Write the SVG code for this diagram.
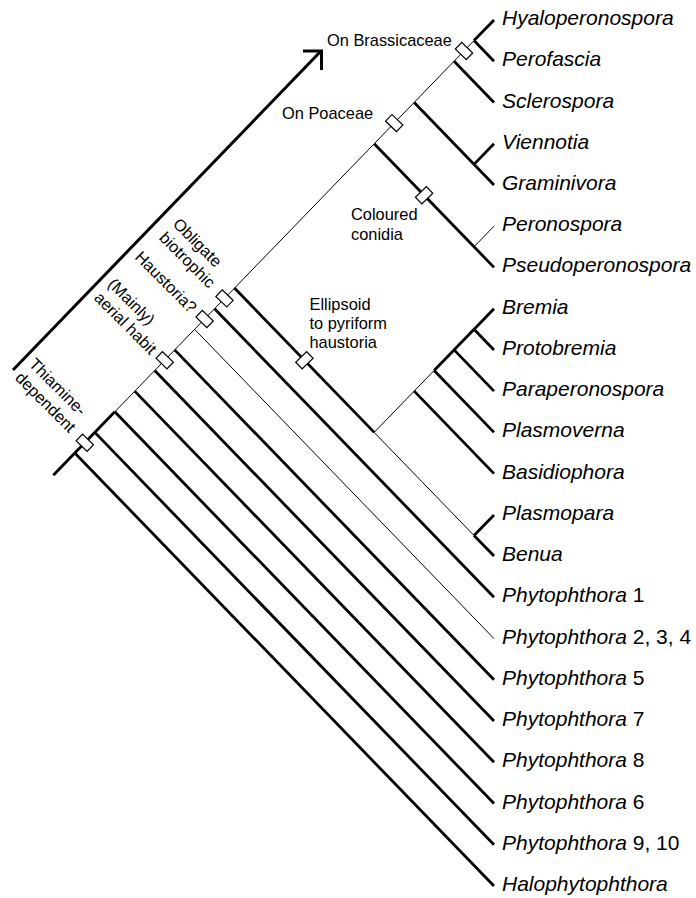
<svg xmlns="http://www.w3.org/2000/svg" width="696" height="898" viewBox="0 0 696 898">
<style>
.thick{fill:none;stroke:#000;stroke-width:2.8;stroke-linecap:butt}
.thin{fill:none;stroke:#000;stroke-width:1}
.arrow{fill:none;stroke:#000;stroke-width:3;stroke-linejoin:miter}
.mk{fill:#fff;stroke:#000;stroke-width:1.2}
.tax{font-family:"Liberation Sans",Arial,sans-serif;font-size:21px;font-style:italic;fill:#000}
.tax tspan.n{font-style:normal}
.lab{font-family:"Liberation Sans",Arial,sans-serif;font-size:16.4px;fill:#000}
</style>
<defs>
<rect id="m" class="mk" x="-4.6" y="-7.6" width="9.2" height="15.2"/>
</defs>
<rect width="696" height="898" fill="#fff"/>
<g id="connectors">
<path class="arrow" d="M13,370 L321,51"/>
<path class="arrow" d="M303,51 L321.5,51 L321.5,70"/>
<path class="thick" d="M53.3,475.2 L74.8,453 L114.8,411.8"/>
<path class="thin" d="M114.8,411.8 L474,40.6"/>
<path class="thick" d="M474,40.6 L494,20 M474,40.6 L494,61.2"/>
<path class="thick" d="M454.1,61.2 L494,102.5"/>
<path class="thick" d="M414.2,102.5 L494,185 M474,164.4 L494,143.7"/>
<path class="thick" d="M374.2,143.7 L494,267.4"/>
<path class="thin" d="M474,246.8 L494,226.2"/>
<path class="thick" d="M234.5,288 L374.2,432.4"/>
<path class="thin" d="M374.2,432.4 L474,535.5"/>
<path class="thick" d="M474,535.5 L494,556.1 M474,535.5 L494,514.9"/>
<path class="thin" d="M374.2,432.4 L434.1,370.5"/>
<path class="thick" d="M434.1,370.5 L494,308.7 M474,329.3 L494,349.9 M454.1,349.9 L494,391.1 M434.1,370.5 L494,432.4 M414.2,391.1 L494,473.6"/>
<path class="thick" d="M214.6,308.7 L494,597.3"/>
<path class="thin" d="M194.6,329.3 L494,638.6"/>
<path class="thick" d="M174.7,349.9 L494,679.8 M154.7,370.5 L494,721 M134.7,391.1 L494,762.3 M114.8,411.8 L494,803.5 M94.8,432.4 L494,844.8 M74.8,453 L494,886"/>
</g>
<g id="char-brassicaceae"><use href="#m" transform="translate(464,51) rotate(-45.9)"/><text class="lab" x="327" y="46">On Brassicaceae</text></g>
<g id="char-poaceae"><use href="#m" transform="translate(394.2,123.1) rotate(-45.9)"/><text class="lab" x="282" y="119">On Poaceae</text></g>
<g id="char-coloured"><use href="#m" transform="translate(424.1,195.3) rotate(45.9)"/><text class="lab"><tspan x="351" y="220">Coloured</tspan><tspan x="351" y="239.5">conidia</tspan></text></g>
<g id="char-ellipsoid"><use href="#m" transform="translate(304.4,360.2) rotate(45.9)"/><text class="lab"><tspan x="309.5" y="309.5">Ellipsoid</tspan><tspan x="309.5" y="328.6">to pyriform</tspan><tspan x="309.5" y="347.7">haustoria</tspan></text></g>
<g id="char-obligate"><use href="#m" transform="translate(224.5,298.4) rotate(-45.9)"/><text class="lab" transform="translate(172,225) rotate(45)"><tspan x="0" y="0">Obligate</tspan><tspan x="0" y="19.5">biotrophic</tspan></text></g>
<g id="char-haustoria"><use href="#m" transform="translate(204.6,319) rotate(-45.9)"/><text class="lab" transform="translate(134,258) rotate(45)">Haustoria?</text></g>
<g id="char-aerial"><use href="#m" transform="translate(164.7,360.2) rotate(-45.9)"/><text class="lab" transform="translate(107,285) rotate(45)"><tspan x="0" y="0">(Mainly)</tspan><tspan x="0" y="19.5">aerial habit</tspan></text></g>
<g id="char-thiamine"><use href="#m" transform="translate(84.8,442.7) rotate(-45.9)"/><text class="lab" transform="translate(28,365) rotate(45)"><tspan x="0" y="0">Thiamine-</tspan><tspan x="0" y="19.5">dependent</tspan></text></g>
<g id="t-hyaloperonospora"><text class="tax" x="502" y="25">Hyaloperonospora</text></g>
<g id="t-perofascia"><text class="tax" x="502" y="66.2">Perofascia</text></g>
<g id="t-sclerospora"><text class="tax" x="502" y="107.5">Sclerospora</text></g>
<g id="t-viennotia"><text class="tax" x="502" y="148.7">Viennotia</text></g>
<g id="t-graminivora"><text class="tax" x="502" y="190">Graminivora</text></g>
<g id="t-peronospora"><text class="tax" x="502" y="231.2">Peronospora</text></g>
<g id="t-pseudoperonospora"><text class="tax" x="502" y="272.4">Pseudoperonospora</text></g>
<g id="t-bremia"><text class="tax" x="502" y="313.7">Bremia</text></g>
<g id="t-protobremia"><text class="tax" x="502" y="354.9">Protobremia</text></g>
<g id="t-paraperonospora"><text class="tax" x="502" y="396.1">Paraperonospora</text></g>
<g id="t-plasmoverna"><text class="tax" x="502" y="437.4">Plasmoverna</text></g>
<g id="t-basidiophora"><text class="tax" x="502" y="478.6">Basidiophora</text></g>
<g id="t-plasmopara"><text class="tax" x="502" y="519.9">Plasmopara</text></g>
<g id="t-benua"><text class="tax" x="502" y="561.1">Benua</text></g>
<g id="t-phytophthora1"><text class="tax" x="502" y="602.3">Phytophthora<tspan class="n"> 1</tspan></text></g>
<g id="t-phytophthora234"><text class="tax" x="502" y="643.6">Phytophthora<tspan class="n"> 2, 3, 4</tspan></text></g>
<g id="t-phytophthora5"><text class="tax" x="502" y="684.8">Phytophthora<tspan class="n"> 5</tspan></text></g>
<g id="t-phytophthora7"><text class="tax" x="502" y="726">Phytophthora<tspan class="n"> 7</tspan></text></g>
<g id="t-phytophthora8"><text class="tax" x="502" y="767.3">Phytophthora<tspan class="n"> 8</tspan></text></g>
<g id="t-phytophthora6"><text class="tax" x="502" y="808.5">Phytophthora<tspan class="n"> 6</tspan></text></g>
<g id="t-phytophthora910"><text class="tax" x="502" y="849.8">Phytophthora<tspan class="n"> 9, 10</tspan></text></g>
<g id="t-halophytophthora"><text class="tax" x="502" y="891">Halophytophthora</text></g>
</svg>
